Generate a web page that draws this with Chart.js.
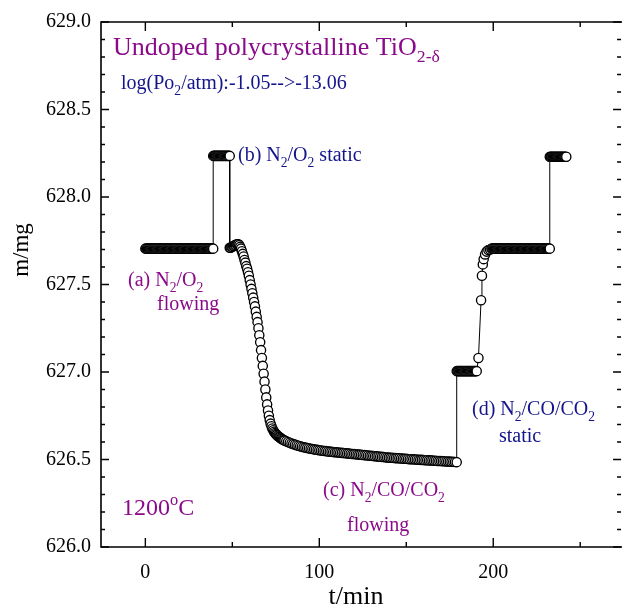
<!DOCTYPE html>
<html>
<head>
<meta charset="utf-8">
<script src="https://cdn.jsdelivr.net/npm/chart.js@4/dist/chart.umd.min.js"></script>
<style>
html,body{margin:0;padding:0;background:#fff;overflow:hidden;width:626px;height:612px;}
canvas{display:block;}
</style>
</head>
<body>
<canvas id="c" width="626" height="612"></canvas>
<script>
// ---- data ----
// (a) N2/O2 flowing
const segA_t = [0,0.5,1,1.5,2,2.5,3,3.5,4,4.5,5,5.5,6,6.5,7,7.5,8,8.5,9,9.5,10,10.5,11,11.5,12,12.5,13,13.5,14,14.5,15,15.5,16,16.5,17,17.5,18,18.5,19,19.5,20,20.5,21,21.5,22,22.5,23,23.5,24,24.5,25,25.5,26,26.5,27,27.5,28,28.5,29,29.5,30,30.5,31,31.5,32,32.5,33,33.5,34,34.5,35,35.5,36,36.5,37,37.5,38,38.5,39];
const segA_m = [
  627.705,627.705,627.705,627.705,627.705,627.705,627.705,627.705,627.705,627.705,
  627.705,627.705,627.705,627.705,627.705,627.705,627.705,627.705,627.705,627.705,
  627.705,627.705,627.705,627.705,627.705,627.705,627.705,627.705,627.705,627.705,
  627.705,627.705,627.705,627.705,627.705,627.705,627.705,627.705,627.705,627.705,
  627.705,627.705,627.705,627.705,627.705,627.705,627.705,627.705,627.705,627.705,
  627.705,627.705,627.705,627.705,627.705,627.705,627.705,627.705,627.705,627.705,
  627.705,627.705,627.705,627.705,627.705,627.705,627.705,627.705,627.705,627.705,
  627.705,627.705,627.705,627.705,627.705,627.705,627.705,627.705,627.705];
// (b) N2/O2 static
const segB_t = [39,39.5,40,40.5,41,41.5,42,42.5,43,43.5,44,44.5,45,45.5,46,46.5,47,47.5,48,48.5];
const segB_m = [628.235,628.235,628.235,628.235,628.235,628.235,628.235,628.235,628.235,628.235,628.235,628.235,628.235,628.235,628.235,628.235,628.235,628.235,628.235,628.235];
// (c) N2/CO/CO2 flowing
const segC_t = [48.5,49,49.5,50,50.5,51,51.5,52,52.5,53,53.5,54,54.5,55,55.5,56,56.5,57,57.5,58,58.5,59,59.5,60,60.5,61,61.5,62,62.5,63,63.5,64,64.5,65,65.5,66,66.5,67,67.5,68,68.5,69,69.5,70,70.5,71,71.5,72,72.5,73,73.5,74,74.5,75,75.5,76,76.5,77,77.5,78,78.5,79,79.5,80,
  81,82,83,84,85,86,87,88,89,90,
  91,92,93,94,95,96,97,98,99,100,
  101,102,103,104,105,106,107,108,109,110,
  111,112,113,114,115,116,117,118,119,120,
  121,122,123,124,125,126,127,128,129,130,
  131,132,133,134,135,136,137,138,139,140,
  141,142,143,144,145,146,147,148,149,150,
  151,152,153,154,155,156,157,158,159,160,
  161,162,163,164,165,166,167,168,169,170,
  171,172,173,174,175,176,177,178,179];
const segC_m = [627.71,627.71,627.715,627.715,627.72,627.72,627.725,627.725,627.73,627.73,627.73,627.725,627.715,627.705,627.69,627.675,627.66,627.64,627.625,627.605,627.59,627.57,627.55,627.525,627.50,627.475,627.45,627.425,627.40,627.375,627.345,627.315,627.285,627.25,627.21,627.17,627.125,627.08,627.035,626.99,626.945,626.90,626.855,626.815,626.78,626.75,626.725,626.705,626.69,626.677,626.667,626.659,626.652,626.646,626.641,626.636,626.632,626.628,626.624,626.62,626.617,626.614,626.611,626.608,
  626.604,626.600,626.596,626.592,626.588,626.585,626.582,626.579,626.576,626.573,
  626.570,626.568,626.566,626.564,626.562,626.560,626.558,626.556,626.555,626.553,
  626.552,626.550,626.549,626.548,626.546,626.545,626.544,626.543,626.542,626.541,
  626.540,626.539,626.538,626.537,626.536,626.535,626.534,626.533,626.532,626.531,
  626.530,626.529,626.528,626.527,626.526,626.525,626.524,626.523,626.522,626.521,
  626.520,626.519,626.518,626.517,626.516,626.515,626.514,626.513,626.512,626.511,
  626.510,626.510,626.509,626.508,626.507,626.507,626.506,626.505,626.504,626.504,
  626.503,626.502,626.502,626.501,626.500,626.500,626.499,626.498,626.498,626.497,
  626.496,626.496,626.495,626.495,626.494,626.493,626.493,626.492,626.492,626.491,
  626.490,626.490,626.489,626.489,626.488,626.487,626.487,626.486,626.485];
// (d) N2/CO/CO2 static
const segD_t = [179,179.5,180,180.5,181,181.5,182,182.5,183,183.5,184,184.5,185,185.5,186,186.5,187,187.5,188,188.5,189,189.5,190,190.5];
const segD_m = [627.005,627.005,627.005,627.005,627.005,627.005,627.005,627.005,627.005,627.005,627.005,627.005,627.005,627.005,627.005,627.005,627.005,627.005,627.005,627.005,627.005,627.005,627.005,627.005];
// recovery back to N2/O2 flowing
const segE_t = [191.5,193,193.5,194,194.5,195.3,196.2,197.2,198.2,
  199,199.5,200,200.5,201,201.5,202,202.5,203,203.5,
  204,204.5,205,205.5,206,206.5,207,207.5,208,208.5,
  209,209.5,210,210.5,211,211.5,212,212.5,213,213.5,
  214,214.5,215,215.5,216,216.5,217,217.5,218,218.5,
  219,219.5,220,220.5,221,221.5,222,222.5,223,223.5,
  224,224.5,225,225.5,226,226.5,227,227.5,228,228.5,
  229,229.5,230,230.5,231,231.5,232,232.5];
const segE_m = [627.08,627.41,627.55,627.615,627.645,627.672,627.688,627.697,627.70,
  627.705,627.705,627.705,627.705,627.705,627.705,627.705,627.705,627.705,627.705,
  627.705,627.705,627.705,627.705,627.705,627.705,627.705,627.705,627.705,627.705,
  627.705,627.705,627.705,627.705,627.705,627.705,627.705,627.705,627.705,627.705,
  627.705,627.705,627.705,627.705,627.705,627.705,627.705,627.705,627.705,627.705,
  627.705,627.705,627.705,627.705,627.705,627.705,627.705,627.705,627.705,627.705,
  627.705,627.705,627.705,627.705,627.705,627.705,627.705,627.705,627.705,627.705,
  627.705,627.705,627.705,627.705,627.705,627.705,627.705,627.705];
// N2/O2 static again
const segF_t = [232.5,233,233.5,234,234.5,235,235.5,236,236.5,237,237.5,238,238.5,239,239.5,240,240.5,241,241.5,242];
const segF_m = [628.23,628.23,628.23,628.23,628.23,628.23,628.23,628.23,628.23,628.23,628.23,628.23,628.23,628.23,628.23,628.23,628.23,628.23,628.23,628.23];

const xTickValues = [0,100,200];
const xTickLabels = ['0','100','200'];
const xMinorTicks = [50,150,250];
const yTickValues = [626.0,626.5,627.0,627.5,628.0,628.5,629.0];
const yTickLabels = ['626.0','626.5','627.0','627.5','628.0','628.5','629.0'];
const yMinorTicks = [626.1,626.2,626.3,626.4,626.6,626.7,626.8,626.9,627.1,627.2,627.3,627.4,627.6,627.7,627.8,627.9,628.1,628.2,628.3,628.4,628.6,628.7,628.8,628.9];

// ---- build ----
const allT = [].concat(segA_t, segB_t, segC_t, segD_t, segE_t, segF_t);
const allM = [].concat(segA_m, segB_m, segC_m, segD_m, segE_m, segF_m);
const points = allT.map((t,i)=>({x:t, y:allM[i]}));

const PURPLE = '#8a0a8a';
const NAVY = '#14148c';
const SERIF = '"Liberation Serif","Times New Roman",serif';

const notes = [
  {x:113, y:55, size:26, color:PURPLE, parts:[['Undoped polycrystalline TiO'],['2-δ','sub']]},
  {x:121, y:89, size:20, color:NAVY, parts:[['log(Po'],['2','sub'],['/atm):-1.05-->-13.06']]},
  {x:238, y:161, size:20, color:NAVY, parts:[['(b) N'],['2','sub'],['/O'],['2','sub'],[' static']]},
  {x:128, y:286, size:20, color:PURPLE, parts:[['(a) N'],['2','sub'],['/O'],['2','sub']]},
  {x:157, y:310, size:20, color:PURPLE, parts:[['flowing']]},
  {x:472, y:415, size:20, color:NAVY, parts:[['(d) N'],['2','sub'],['/CO/CO'],['2','sub']]},
  {x:499, y:442, size:20, color:NAVY, parts:[['static']]},
  {x:323, y:496, size:20, color:PURPLE, parts:[['(c) N'],['2','sub'],['/CO/CO'],['2','sub']]},
  {x:347, y:531, size:20, color:PURPLE, parts:[['flowing']]},
  {x:122, y:515, size:24, color:PURPLE, parts:[['1200'],['o','sup'],['C']]}
];

function drawRich(ctx, n){
  let x = n.x;
  ctx.fillStyle = n.color;
  ctx.textBaseline = 'alphabetic';
  ctx.textAlign = 'left';
  n.parts.forEach(p=>{
    let s = n.size, dy = 0;
    if (p[1]==='sub'){ s = n.size*0.68; dy = n.size*0.28; }
    if (p[1]==='sup'){ s = n.size*0.68; dy = -n.size*0.42; }
    ctx.font = s + 'px ' + SERIF;
    ctx.fillText(p[0], x, n.y + dy);
    x += ctx.measureText(p[0]).width;
  });
}

const framePlugin = {
  id:'frame',
  afterDraw(chart){
    const ctx = chart.ctx, a = chart.chartArea;
    const xs = chart.scales.x, ys = chart.scales.y;
    ctx.save();
    ctx.strokeStyle = '#000';
    ctx.lineWidth = 1.6;
    // left, top, bottom frame (right edge lies at the picture border)
    ctx.beginPath();
    ctx.moveTo(a.right + 2, a.top); ctx.lineTo(a.left, a.top);
    ctx.lineTo(a.left, a.bottom); ctx.lineTo(a.right + 2, a.bottom);
    ctx.stroke();
    ctx.lineWidth = 1.4;
    ctx.beginPath();
    const tickX = (v,len)=>{ const p = xs.getPixelForValue(v);
      ctx.moveTo(p,a.bottom); ctx.lineTo(p,a.bottom-len);
      ctx.moveTo(p,a.top); ctx.lineTo(p,a.top+len); };
    const tickY = (v,len)=>{ const p = ys.getPixelForValue(v);
      ctx.moveTo(a.left,p); ctx.lineTo(a.left+len,p);
      ctx.moveTo(a.right+1,p); ctx.lineTo(a.right+1-len,p); };
    xTickValues.forEach(v=>tickX(v,9));
    xMinorTicks.forEach(v=>tickX(v,5));
    yTickValues.forEach(v=>tickY(v,8));
    yMinorTicks.forEach(v=>tickY(v,4));
    ctx.stroke();
    // axis titles
    ctx.fillStyle = '#000';
    ctx.textAlign = 'center';
    ctx.textBaseline = 'middle';
    ctx.font = '26px ' + SERIF;
    ctx.fillText('t/min', 356, 597);
    ctx.font = '23px ' + SERIF;
    ctx.save();
    ctx.translate(22, 250);
    ctx.rotate(-Math.PI/2);
    ctx.fillText('m/mg', 0, 0);
    ctx.restore();
    notes.forEach(n=>drawRich(ctx,n));
    ctx.restore();
  }
};

new Chart(document.getElementById('c'), {
  type:'scatter',
  data:{datasets:[{
    data:points,
    showLine:true,
    borderColor:'#000',
    borderWidth:1,
    tension:0,
    pointRadius:4.6,
    pointBorderWidth:1.35,
    pointBorderColor:'#000',
    pointBackgroundColor:'#fff'
  }]},
  options:{
    responsive:false,
    animation:false,
    events:[],
    layout:{padding:{top:18,left:0,right:0,bottom:0}},
    plugins:{legend:{display:false},tooltip:{enabled:false}},
    scales:{
      x:{
        type:'linear', min:-25.5, max:272.9,
        grid:{display:false, drawTicks:false},
        border:{display:false},
        afterFit(s){ s.height = 65; },
        afterBuildTicks(s){ s.ticks = xTickValues.map(v=>({value:v})); },
        ticks:{padding:14, color:'#000', font:{family:SERIF,size:20},
          callback:(v)=>{ const i = xTickValues.indexOf(v); return i>=0 ? xTickLabels[i] : ''; }}
      },
      y:{
        type:'linear', min:626, max:629,
        grid:{display:false, drawTicks:false},
        border:{display:false},
        afterFit(s){ s.width = 101; },
        afterBuildTicks(s){ s.ticks = yTickValues.map(v=>({value:v})); },
        ticks:{padding:10, color:'#000', font:{family:SERIF,size:20},
          callback:(v)=>{ const i = yTickValues.findIndex(u=>Math.abs(u-v)<1e-6); return i>=0 ? yTickLabels[i] : ''; }}
      }
    }
  },
  plugins:[framePlugin]
});
</script>
</body>
</html>
